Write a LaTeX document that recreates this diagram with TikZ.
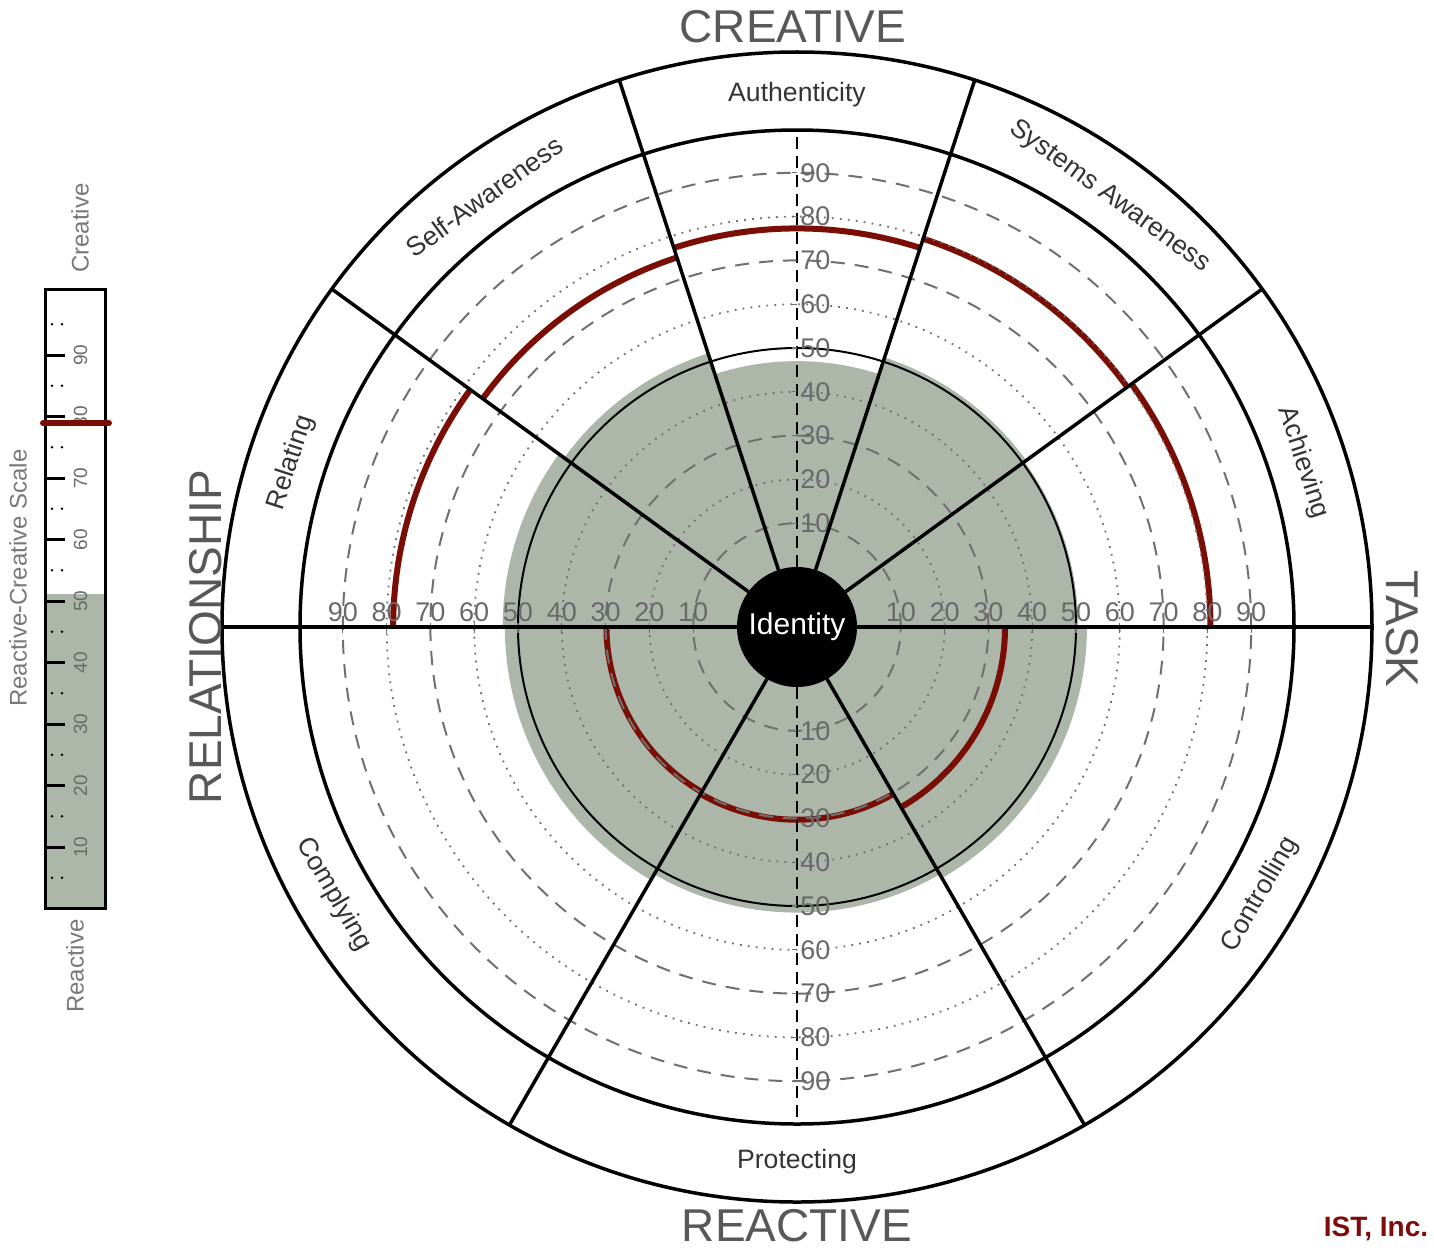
\documentclass[tikz,border=0pt]{standalone}
\usepackage{fontspec}
\setmainfont{Liberation Sans}
\definecolor{scorered}{RGB}{122,14,4}
\definecolor{blobgray}{RGB}{172,183,169}
\definecolor{gridgray}{RGB}{112,112,112}
\definecolor{labelgray}{RGB}{105,105,105}
\definecolor{wordgray}{RGB}{88,88,88}
\definecolor{istred}{RGB}{125,12,10}
\tikzset{
  ring/.style={line width=1.75pt,draw=black},
  divider/.style={line width=1.75pt,draw=black},
  midring/.style={line width=1pt,draw=black},
  dashring/.style={line width=1pt,draw=gridgray,dash pattern=on 7pt off 5pt},
  dotring/.style={line width=0.9pt,draw=gridgray,dash pattern=on 0.9pt off 3.1pt},
  axisdash/.style={line width=1.3pt,draw=black,dash pattern=on 6pt off 3.5pt},
  axistick/.style={line width=0.6pt,draw=gridgray},
  score/.style={line width=3pt,draw=scorered},
  blob/.style={fill=blobgray},
  ticklbl/.style={font=\fontsize{13.5}{14}\selectfont,text=labelgray,inner sep=0pt},
  sectorlbl/.style={font=\fontsize{13.3}{14}\selectfont,text=black!80,inner sep=0pt},
  bigword/.style={font=\fontsize{23}{24}\selectfont,text=wordgray,inner sep=0pt},
  scalelbl/.style={font=\fontsize{12}{13}\selectfont,text=labelgray!90,inner sep=0pt,rotate=90},
  scaletick/.style={font=\fontsize{9.5}{10}\selectfont,text=labelgray,inner sep=0pt,rotate=90}
}

\begin{document}
\begin{tikzpicture}[x=0.5pt,y=0.5pt]
  \useasboundingbox (-797,-622) rectangle (637,627);

  % reactive-creative area per sector
  \foreach \a/\b/\v in {0/36/50.5,36/72/51,72/108/47,108/144/52,144/180/53.5,180/240/53,240/300/51.5,300/360/52.5}
    \fill[blob] (0,0) -- (\a:{60+4.38*\v}) arc[start angle=\a,end angle=\b,radius={60+4.38*\v}] -- cycle;

  % scores
  \foreach \a/\b/\v in {0/36/80.7,36/72/79.5,72/108/77.3,108/144/75,144/180/78.5,180/240/29.8,240/300/30.3,300/360/33.8}
    \draw[score] (\a:{60+4.38*\v}) arc[start angle=\a,end angle=\b,radius={60+4.38*\v}];

  % grid rings
  \foreach \v in {10,30,70,90}
    \draw[dashring] (0,0) circle[radius={60+4.38*\v}];
  \foreach \v in {20,40,60,80}
    \draw[dotring] (0,0) circle[radius={60+4.38*\v}];
  \draw[midring] (0,0) circle[radius={60+4.38*50}];

  % axes with ticks and values
  \draw[axisdash] (90:60) -- (90:497);
  \draw[axisdash] (270:60) -- (270:497);
  \foreach \v in {10,20,...,90}{
    \draw[axistick] ({60+4.38*\v},-6) -- ({60+4.38*\v},4);
    \draw[axistick] ({-60-4.38*\v},-6) -- ({-60-4.38*\v},4);
    \draw[axistick] (-5,{60+4.38*\v}) -- (0,{60+4.38*\v});
    \draw[axistick] (-5,{-60-4.38*\v}) -- (0,{-60-4.38*\v});
    \node[ticklbl,anchor=south] (r\v) at ({60+4.38*\v},5) {\v};
    \node[ticklbl,anchor=south] (l\v) at ({-60-4.38*\v},5) {\v};
    \node[ticklbl,anchor=west] (u\v) at (3,{60+4.38*\v}) {\v};
    \node[ticklbl,anchor=west] (d\v) at (3,{-60-4.38*\v}) {\v};
  }

  % sectors and rings
  \foreach \a in {0,36,72,108,144,180,240,300}
    \draw[divider] (\a:60) -- (\a:575);
  \draw[ring] (0,0) circle[radius=497];
  \draw[ring] (0,0) circle[radius=575];

  \node[circle,fill=black,minimum size=60pt,inner sep=0pt,text=white,
        font=\fontsize{15}{16}\selectfont] (id) at (0,0) {Identity};

  \node[sectorlbl] (auth) at (90:532) {Authenticity};
  \node[sectorlbl,rotate=-36] (sysaw) at (54:532) {Systems Awareness};
  \node[sectorlbl,rotate=-72] (achv) at (18:532) {Achieving};
  \node[sectorlbl,rotate=60] (ctrl) at (-30:535) {Controlling};
  \node[sectorlbl] (prot) at (-90:535) {Protecting};
  \node[sectorlbl,rotate=-60] (comp) at (210:535) {Complying};
  \node[sectorlbl,rotate=72] (rela) at (162:532) {Relating};
  \node[sectorlbl,rotate=36] (selfaw) at (126:532) {Self-Awareness};

  \node[bigword] (creative) at (-4,600) {CREATIVE};
  \node[bigword] (reactive) at (0,-599) {REACTIVE};
  \node[bigword,rotate=90] (relation) at (-591,-10) {RELATIONSHIP};
  \node[bigword,rotate=-90] (task) at (605,-2) {TASK};

  % reactive-creative scale
  \fill[blob] (-751,-281.5) rectangle (-691,{-281.5+6.15*51.1});
  \foreach \v in {10,20,...,90}{
    \draw[line width=1.5pt] (-751,{-281.5+6.15*\v}) -- ++(19,0);
    \node[scaletick] (s\v) at (-716.5,{-281.5+6.15*\v}) {\v};
  }
  \foreach \v in {5,15,...,95}{
    \fill (-745,{-281.5+6.15*\v}) circle[radius=1.4];
    \fill (-735,{-281.5+6.15*\v}) circle[radius=1.4];
  }
  \draw[line width=1.5pt] (-751,-281.5) rectangle (-691,338);
  \draw[score,line cap=round] (-754,{-281.5+6.15*78.9}) -- (-688,{-281.5+6.15*78.9});
  \node[scalelbl] (sctop) at (-717,399) {Creative};
  \node[scalelbl] (scbot) at (-722,-339) {Reactive};
  \node[scalelbl] (sctitle) at (-779,49) {Reactive-Creative Scale};

  \node[font=\fontsize{14}{15}\selectfont\bfseries,text=istred,inner sep=0pt] (ist) at (579,-602) {IST, Inc.};
\end{tikzpicture}
\end{document}
